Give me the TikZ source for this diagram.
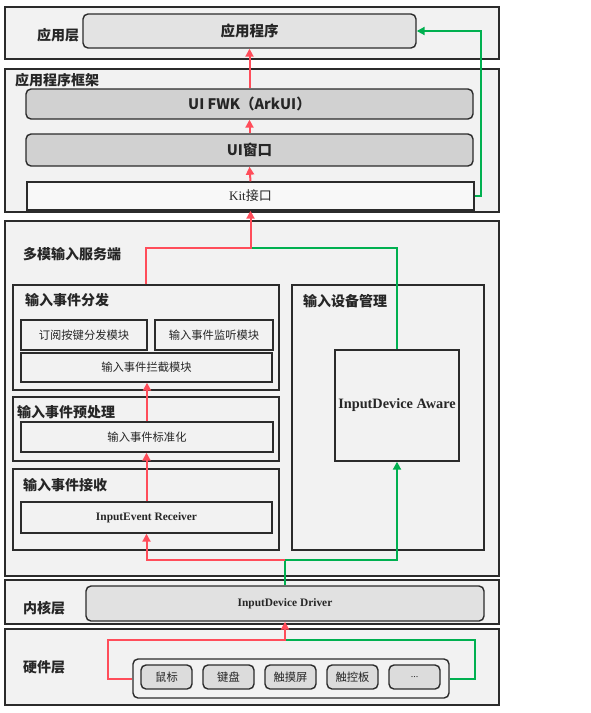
\documentclass[tikz,border=0pt]{standalone}
\usepackage{fontspec}
\setmainfont{Liberation Serif}
\newfontfamily\cjk{Noto Sans CJK SC}
\usetikzlibrary{arrows.meta}
\definecolor{bord}{HTML}{2B2B2B}
\definecolor{lay}{HTML}{F2F2F2}
\definecolor{gbox}{HTML}{DCDCDC}
\definecolor{rline}{HTML}{FF4D5A}
\definecolor{gline}{HTML}{00B050}
\definecolor{txt}{HTML}{262626}
\tikzset{
  layer/.style={draw=bord,line width=1.6pt,fill=lay,inner sep=0pt},
  rbox/.style={draw=bord,line width=1.4pt,fill=gbox,rounded corners=5pt,inner sep=0pt,text=txt},
  sbox/.style={draw=bord,line width=1.4pt,fill=lay,inner sep=0pt,text=txt},
  lbl/.style={anchor=west,inner sep=0pt,text=txt,font=\cjk\bfseries\fontsize{14}{16}\selectfont},
  mod/.style={font=\cjk\fontsize{11.3}{13}\selectfont},
  ser/.style={font=\bfseries\fontsize{11.4}{13}\selectfont},
  redl/.style={draw=rline,line width=2pt},
  grnl/.style={draw=gline,line width=2pt},
  tip/.style={-{Triangle[length=8pt,width=8pt]}},
}
\begin{document}
\begin{tikzpicture}[x=1pt,y=-1pt]
\useasboundingbox (0,0) rectangle (591,713);
% layers
\node[layer,minimum width=494,minimum height=52] (L1) at (252,33) {};
\node[layer,minimum width=494,minimum height=143] (L2) at (252,140.5) {};
\node[layer,minimum width=494,minimum height=355] (L3) at (252,398.5) {};
\node[layer,minimum width=494,minimum height=44] (L4) at (252,602) {};
\node[layer,minimum width=494,minimum height=76] (L5) at (252,667) {};
% app layer
\node[rbox,minimum width=333,minimum height=34,fill=gbox!80!white,font=\cjk\bfseries\fontsize{14.5}{16}\selectfont] (app) at (249.5,31) {应用程序};
\node[lbl] (t1) at (37,35) {应用层};
% framework
\node[rbox,minimum width=447,minimum height=30,fill=gbox!95!black,font=\cjk\bfseries\fontsize{14.5}{16}\selectfont] (fwk) at (249.5,104) {UI FWK（ArkUI）};
\node[lbl] (t2) at (15,80) {应用程序框架};
\node[rbox,minimum width=447,minimum height=32,fill=gbox!95!black,font=\cjk\bfseries\fontsize{14.5}{16}\selectfont] (win) at (249.5,150) {UI窗口};
\node[sbox,minimum width=447,minimum height=28,fill=lay!50!white,font=\fontsize{13}{15}\selectfont] (kit) at (250.5,196) {Kit{\cjk 接口}};
% service
\node[lbl] (t3) at (23,254) {多模输入服务端};
\node[sbox,minimum width=266,minimum height=105] (disp) at (146,337.5) {};
\node[lbl] (t4) at (25,300) {输入事件分发};
\node[sbox,minimum width=126,minimum height=30,mod] (sub) at (84,335) {订阅按键分发模块};
\node[sbox,minimum width=118,minimum height=30,mod] (mon) at (214,335) {输入事件监听模块};
\node[sbox,minimum width=251,minimum height=29,mod] (intc) at (146.5,367.5) {输入事件拦截模块};
\node[sbox,minimum width=266,minimum height=64] (pre) at (146,429) {};
\node[lbl] (t5) at (17,412) {输入事件预处理};
\node[sbox,minimum width=252,minimum height=30,mod] (norm) at (147,437) {输入事件标准化};
\node[sbox,minimum width=266,minimum height=81] (rcv) at (146,509.5) {};
\node[lbl] (t6) at (23,485) {输入事件接收};
\node[sbox,minimum width=251,minimum height=31,ser] (receiver) at (146.5,517.5) {InputEvent Receiver};
\node[sbox,minimum width=192,minimum height=265] (dev) at (388,417.5) {};
\node[lbl] (t7) at (303,301) {输入设备管理};
\node[sbox,minimum width=124,minimum height=111,font=\bfseries\fontsize{14.3}{16}\selectfont] (aware) at (397,405.5) {InputDevice Aware};
% kernel
\node[lbl] (t8) at (23,608) {内核层};
\node[rbox,minimum width=398,minimum height=35,ser,fill=gbox!85!white] (driver) at (285,603.5) {InputDevice Driver};
% hardware
\node[lbl] (t9) at (23,667) {硬件层};
\node[rbox,minimum width=316,minimum height=39,fill=lay] (devs) at (291,678.5) {};
\node[rbox,minimum width=51,minimum height=24,mod] (d1) at (166.5,677) {鼠标};
\node[rbox,minimum width=51,minimum height=24,mod] (d2) at (228.5,677) {键盘};
\node[rbox,minimum width=51,minimum height=24,mod] (d3) at (290.5,677) {触摸屏};
\node[rbox,minimum width=51,minimum height=24,mod] (d4) at (352.5,677) {触控板};
\node[rbox,minimum width=51,minimum height=24,font=\fontsize{10}{12}\selectfont] (d5) at (414.5,677) {...};
% junctions
\coordinate (j1) at (250.5,248);
\coordinate (j2) at (285,560);
\coordinate (j3) at (285,640);
\coordinate (c1) at (108,640);
\coordinate (c2) at (475,640);
\coordinate (c3) at (481,31);
% connectors
\draw[redl,tip] (fwk.north) -- (app.south);
\draw[redl,tip] (win.north) -- (fwk.south);
\draw[redl,tip] (kit.north) -- (win.south);
\draw[grnl,tip] (kit.east) -| (c3) -- (app.east);
\draw[grnl] (aware.north) |- (j1);
\draw[redl,tip] (disp.north) |- (j1) -- (kit.south);
\draw[redl,tip] (norm.north) -- (norm.north |- intc.south);
\draw[redl,tip] (receiver.north) -- (receiver.north |- norm.south);
\draw[grnl,tip] (driver.north) -- (j2) -| (aware.south);
\draw[redl,tip] (j2) -| (receiver.south);
\draw[grnl] (devs.east) -| (c2) -- (j3);
\draw[redl,tip] (devs.west) -| (c1) -- (j3) -- (driver.south);
\end{tikzpicture}
\end{document}
